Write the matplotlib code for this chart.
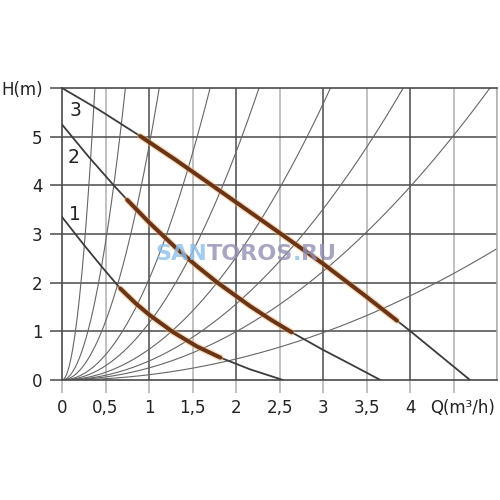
import numpy as np
import matplotlib

matplotlib.use("Agg")
import matplotlib.pyplot as plt

# --- pump curves (Q in m3/h, H in m) -------------------------------------------
PUMP1_Q = [0, 0.25, 0.47, 0.67, 0.85, 1.01, 1.28, 1.55, 1.82, 2.16, 2.54]
PUMP1_H = [3.35, 2.78, 2.30, 1.88, 1.57, 1.33, 0.98, 0.69, 0.46, 0.22, 0.0]
PUMP2_Q = [0, 0.3, 0.61, 0.75, 1.0, 1.33, 1.55, 1.78, 2.16, 2.4, 2.64, 3.0, 3.3, 3.66]
PUMP2_H = [5.25, 4.6, 3.97, 3.70, 3.24, 2.68, 2.34, 2.01, 1.52, 1.24, 0.98, 0.62, 0.34, 0.0]
PUMP3_Q = [0, 0.4, 0.9, 1.3, 1.82, 2.4, 3.0, 3.5, 3.85, 4.0, 4.69]
PUMP3_H = [6.0, 5.58, 5.01, 4.53, 3.88, 3.15, 2.39, 1.71, 1.22, 1.01, 0.0]
# recommended (bold) working range of each speed
BOLD_RANGE = [(0.67, 1.82), (0.75, 2.64), (0.9, 3.85)]
SPEED_LABELS = ["1", "2", "3"]
LABEL_POS = [(0.15, 3.4), (0.13, 4.58), (0.15, 5.53)]

# system curves H = k*Q^2, coefficients read from where they meet the frame
SYSTEM_K = [42.0, 11.3, 4.8, 2.07, 1.17, 0.63, 0.39, 0.248, 0.108]

X_TICKS = [0, 0.5, 1, 1.5, 2, 2.5, 3, 3.5, 4, 4.5]
X_LABELS = ["0", "0,5", "1", "1,5", "2", "2,5", "3", "3,5", "4", ""]
Y_TICKS = [0, 1, 2, 3, 4, 5, 6]
Y_LABELS = ["0", "1", "2", "3", "4", "5", "H(m)"]

DARK = "#4a4a4a"
LIGHT = "#b0b0b0"
CURVE = "#3c3c3c"
BROWN = "#6a3517"
GLOW = "#f0b070"

fig = plt.figure(figsize=(5, 5), dpi=100)
ax = fig.add_axes([0.124, 0.24, 0.87, 0.584])
ax.set_xlim(0, 5)
ax.set_ylim(0, 6)

# grid: integers darker, halves lighter
for x in np.arange(0.5, 5.01, 0.5):
    col = DARK if float(x).is_integer() and x < 5 else LIGHT
    ax.axvline(x, color=col, lw=1.1, zorder=1)
for y in range(1, 6):
    ax.axhline(y, color=DARK, lw=1.1, zorder=1)

# system curves
for k in SYSTEM_K:
    q = np.linspace(0, 5, 400)
    ax.plot(q, k * q ** 2, color="#666666", lw=0.8, zorder=2)

# pump curves with bold working range
for (qs, hs), (lo, hi), lab, pos in zip(
        [(PUMP1_Q, PUMP1_H), (PUMP2_Q, PUMP2_H), (PUMP3_Q, PUMP3_H)],
        BOLD_RANGE, SPEED_LABELS, LABEL_POS):
    ax.plot(qs, hs, color=CURVE, lw=1.3, zorder=3, solid_capstyle="round")
    bq = [q for q in qs if lo <= q <= hi]
    bh = [h for q, h in zip(qs, hs) if lo <= q <= hi]
    ax.plot(bq, bh, color=GLOW, lw=4.8, alpha=0.45, zorder=4, solid_capstyle="round",
            solid_joinstyle="round")
    ax.plot(bq, bh, color=BROWN, lw=2.9, zorder=5, solid_capstyle="round",
            solid_joinstyle="round")
    ax.text(pos[0], pos[1], lab, fontsize=13.5, color="#222222", ha="center",
            va="center", zorder=6)

# watermark
wm = dict(fontsize=16, fontweight="bold", alpha=0.8, zorder=7)
t = ax.text(1.07, 2.47, "SAN", color="#8cc0ec", **wm)
t = ax.annotate("TOROS", xy=(1, 0), xycoords=t, va="bottom", color="#9290b4", **wm)
t = ax.annotate(".", xy=(1, 0), xycoords=t, va="bottom", color="#8cc0ec", **wm)
ax.annotate("RU", xy=(1, 0), xycoords=t, va="bottom", color="#9290b4", **wm)

ax.set_xticks(X_TICKS)
ax.set_xticklabels(X_LABELS)
ax.set_yticks(Y_TICKS)
ax.set_yticklabels(Y_LABELS)
ax.tick_params(axis="x", length=9, width=1.1, color=LIGHT, pad=5, labelsize=12,
               labelcolor="#222222")
ax.tick_params(axis="y", length=9, width=1.1, color=DARK, pad=5, labelsize=12,
               labelcolor="#222222")
# axis name in place of the last x tick label
ax.text(4.6, -0.39, "Q(m³/h)", fontsize=12, color="#222222", ha="center", va="top",
        transform=ax.transData, clip_on=False)
for s in ("left", "bottom", "top"):
    ax.spines[s].set_color(DARK)
    ax.spines[s].set_linewidth(1.2)
ax.spines["right"].set_color(LIGHT)
ax.spines["right"].set_linewidth(1.1)

fig.savefig("out.png", dpi=100, facecolor="white")
